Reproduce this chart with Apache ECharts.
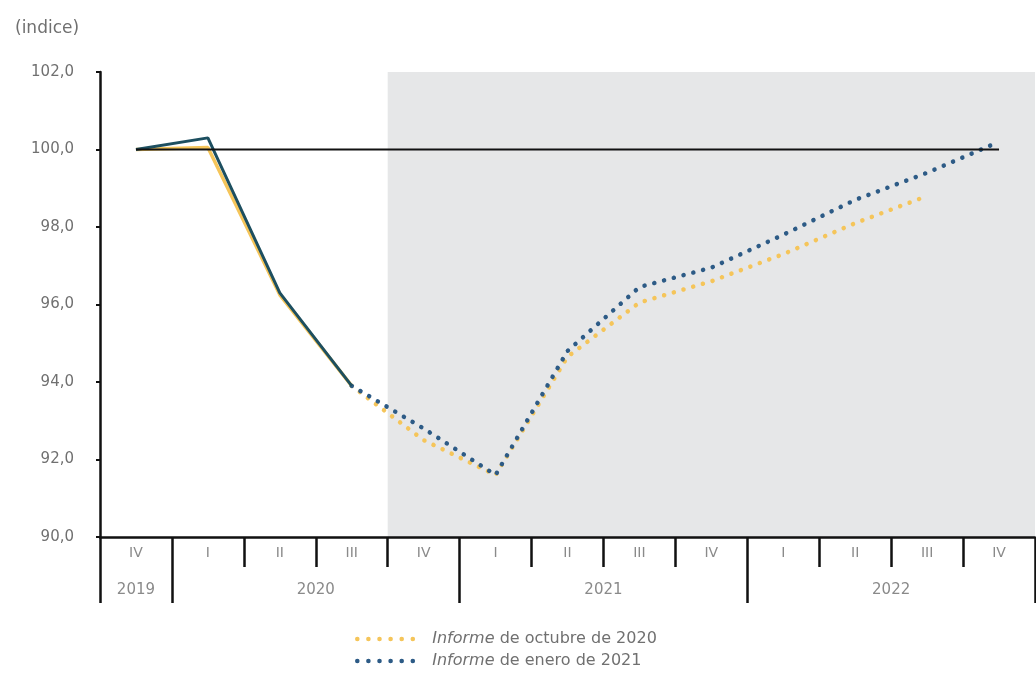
<!DOCTYPE html>
<html><head><meta charset="utf-8">
<script src="https://cdn.jsdelivr.net/npm/echarts@6/dist/echarts.min.js"></script>
<style>html,body{margin:0;padding:0;background:#fff}#c{width:1036px;height:684px}</style>
</head><body><div id="c"></div>
<script>
// ---- data ----
const quarterCats = ['IV-2019','I-2020','II-2020','III-2020','IV-2020','I-2021','II-2021','III-2021','IV-2021','I-2022','II-2022','III-2022','IV-2022'];
const years = ['2019','2020','2021','2022'];
const yearSpans = [1,4,4,4];
const lastObservedIndex = 3;   // III-2020
const shadeStartIndex = 4;     // IV-2020 onward: projection
const octubreValues = [100.0, 100.05, 96.25, 93.9, 92.5, 91.6, 94.65, 96.05, 96.6, 97.3, 98.1, 98.8, null];
const eneroValues   = [100.0, 100.3, 96.3, 93.9, 92.8, 91.6, 94.8, 96.45, 96.95, 97.8, 98.7, 99.4, 100.2];
const refValue = 100;
const yTicks = {min: 90, max: 102, interval: 2};
const nameOct = 'Informe de octubre de 2020';
const nameEne = 'Informe de enero de 2021';

// ---- helpers ----
const hist = arr => arr.map((v,i)=> i<=lastObservedIndex && v!=null ? v : '-');
const proj = arr => arr.map((v,i)=> i>=lastObservedIndex && v!=null ? v : '-');
// half-quarter positions for the year row
const halfCats = []; for (let i=0;i<=2*quarterCats.length;i++) halfCats.push(String(i));
const yearLabelAt = {}; const yearTickAt = {0:true};
let start = 0;
years.forEach((y,k)=>{ yearLabelAt[2*start + yearSpans[k]] = y; start += yearSpans[k]; yearTickAt[2*start] = true; });

const FONT = 'DejaVu Sans';
const GRAY = '#707070';
const ORANGE = '#f5c55a';
const BLUE = '#2d5b86';
const TEAL = '#1d4f60';
const dotted = (color) => ({color, width: 4.5, type: [0.1, 10], cap: 'round'});

const chart = echarts.init(document.getElementById('c'));
chart.setOption({
  animation: false,
  textStyle: {fontFamily: FONT},
  title: {text: '(indice)', left: 10, top: 15, textStyle: {fontFamily: FONT, fontSize: 17, fontWeight: 'normal', color: GRAY}},
  grid: {left: 100, right: 1, top: 72, bottom: 147},
  xAxis: [
    {type: 'category', data: quarterCats, boundaryGap: true, z: 10,
     axisLine: {show: true, lineStyle: {color: '#111', width: 2.5}},
     axisTick: {show: true, interval: 0, length: 30, lineStyle: {color: '#111', width: 2.5}},
     axisLabel: {interval: 0, margin: 9, color: '#8a8a8a', fontSize: 14, fontFamily: FONT, formatter: v => v.split('-')[0]}},
    {type: 'category', data: halfCats, boundaryGap: false, position: 'bottom', z: 10,
     axisLine: {show: false},
     axisTick: {show: true, interval: (i)=> !!yearTickAt[i], length: 66, lineStyle: {color: '#111', width: 2.5}},
     axisLabel: {interval: (i)=> yearLabelAt[i]!==undefined, margin: 46, color: '#8a8a8a', fontSize: 15, fontFamily: FONT,
                 formatter: (v)=> yearLabelAt[+v] || ''}},
    {type: 'value', min: 0, max: quarterCats.length, show: false}
  ],
  yAxis: {type: 'value', min: yTicks.min, max: yTicks.max, interval: yTicks.interval, z: 10,
    axisLine: {show: true, lineStyle: {color: '#111', width: 2.5}},
    axisTick: {show: true, length: 4, lineStyle: {color: '#111', width: 2}},
    splitLine: {show: false},
    axisLabel: {margin: 26, color: GRAY, fontSize: 15, fontFamily: FONT, formatter: v => v.toFixed(1).replace('.', ',')}},
  legend: {data: [nameOct, nameEne], orient: 'vertical', left: 350, top: 626, itemGap: 6,
    itemWidth: 64, itemHeight: 14, itemStyle: {opacity: 0},
    lineStyle: {width: 4.5, type: [0.1, 11], cap: 'round'},
    textStyle: {fontFamily: FONT, fontSize: 16, color: GRAY, padding: [0, 0, 0, 6],
      rich: {i: {fontStyle: 'italic', fontFamily: FONT, fontSize: 16, color: GRAY}}},
    formatter: n => n.replace('Informe', '{i|Informe}')},
  series: [
    {name: 'shade', type: 'line', xAxisIndex: 2, data: [[0, refValue]], symbol: 'none', lineStyle: {opacity: 0}, silent: true,
     markArea: {silent: true, itemStyle: {color: '#e6e7e8'}, data: [[{xAxis: shadeStartIndex}, {xAxis: quarterCats.length}]]}, z: 0},
    {name: nameOct, type: 'line', data: proj(octubreValues), symbol: 'none', lineStyle: dotted(ORANGE), itemStyle: {color: ORANGE}, z: 2},
    {name: 'oct-hist', type: 'line', data: hist(octubreValues), symbol: 'none', lineStyle: {color: ORANGE, width: 3.5}, z: 2},
    {name: nameEne, type: 'line', data: proj(eneroValues), symbol: 'none', lineStyle: dotted(BLUE), itemStyle: {color: BLUE}, z: 3},
    {name: 'ene-hist', type: 'line', data: hist(eneroValues), symbol: 'none', lineStyle: {color: TEAL, width: 3}, z: 3},
    {name: 'ref', type: 'line', data: quarterCats.map(()=>refValue), symbol: 'none', lineStyle: {color: '#111', width: 2}, z: 4}
  ]
});
</script></body></html>
